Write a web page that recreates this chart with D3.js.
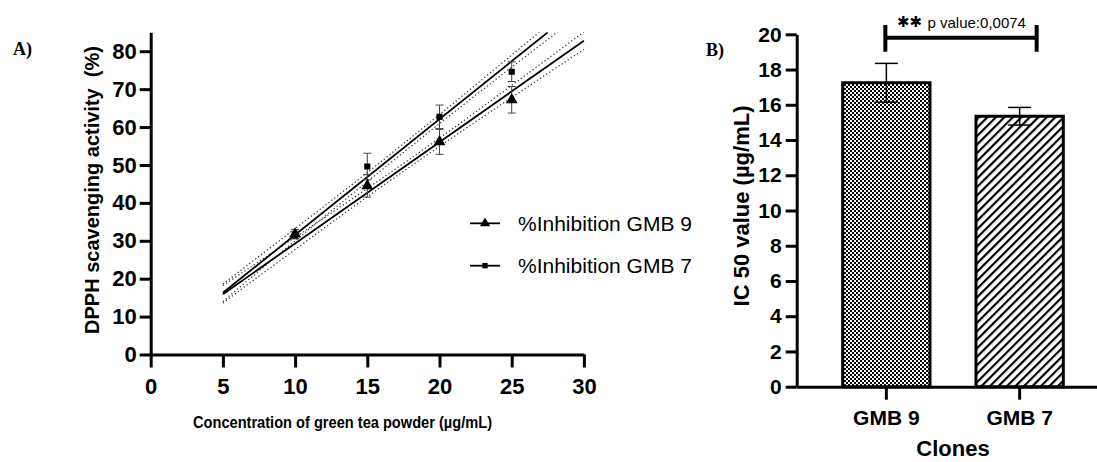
<!DOCTYPE html>
<html>
<head>
<meta charset="utf-8">
<script src="https://cdn.jsdelivr.net/npm/d3@7"></script>
<style>
  body { margin: 0; background: #fff; }
  svg { display: block; font-family: "Liberation Sans", Arial, sans-serif; }
</style>
</head>
<body>
<div id="chart"></div>
<script>
// ---- panel A : DPPH scavenging ----
var conc = [10, 15, 20, 25];
var gmb9 = [31.8, 44.5, 56.1, 67.2];
var gmb9Err = [1.2, 3.0, 3.3, 3.5];
var gmb7 = [31.5, 49.6, 62.7, 74.6];
var gmb7Err = [1.0, 3.5, 3.1, 2.6];

// regression lines, end points
var fit9X = [5, 30], fit9Y = [15.9, 82.8];
var fit7X = [5, 27.5], fit7Y = [16.3, 85];

// dotted confidence bands
var bandX = [5, 10, 15, 20, 25, 30];
var band9Hi = [18.2, 30.9, 43.8, 57.1, 71.0, 85.1];
var band9Lo = [13.6, 27.7, 41.6, 54.9, 67.8, 80.5];
var band7Hi = [18.6, 33.2, 48.0, 63.3, 79.0, 94.8];
var band7Lo = [14.0, 30.0, 45.6, 60.9, 75.8, 90.4];

var xTicksA = [0, 5, 10, 15, 20, 25, 30];
var yTicksA = [0, 10, 20, 30, 40, 50, 60, 70, 80];
var seriesNames = ["%Inhibition GMB 9", "%Inhibition GMB 7"];

// ---- panel B : IC50 ----
var clones = ["GMB 9", "GMB 7"];
var ic50 = [17.25, 15.35];
var ic50Err = [1.1, 0.5];
var yTicksB = [0, 2, 4, 6, 8, 10, 12, 14, 16, 18, 20];
var sigStars = "\u2731\u2731";
var sigText = "p value:0,0074";

var width = 1097, height = 462;

var svg = d3.select("#chart")
  .append("svg")
  .attr("width", width)
  .attr("height", height);

var defs = svg.append("defs");

// checker pattern for GMB 9
var checker = defs.append("pattern")
  .attr("id", "checker")
  .attr("width", 4).attr("height", 4)
  .attr("patternUnits", "userSpaceOnUse");
checker.append("rect").attr("width", 4).attr("height", 4).attr("fill", "#fff");
checker.append("rect").attr("width", 2).attr("height", 2).attr("fill", "#000");
checker.append("rect").attr("x", 2).attr("y", 2).attr("width", 2).attr("height", 2).attr("fill", "#000");

// diagonal hatch for GMB 7
var hatch = defs.append("pattern")
  .attr("id", "hatch")
  .attr("width", 6).attr("height", 6)
  .attr("patternUnits", "userSpaceOnUse")
  .attr("patternTransform", "rotate(45)");
hatch.append("rect").attr("width", 6).attr("height", 6).attr("fill", "#fff");
hatch.append("rect").attr("width", 2.2).attr("height", 6).attr("fill", "#000");

defs.append("clipPath").attr("id", "clipA")
  .append("rect")
  .attr("x", 150.7).attr("y", 32.3)
  .attr("width", 434).attr("height", 322.2);

/* ================= panel A ================= */
var xA = d3.scaleLinear().domain([0, 30]).range([150.7, 583.9]);
var yA = d3.scaleLinear().domain([0, 85]).range([354.5, 32.3]);

var gA = svg.append("g");

var yAxisA = gA.append("g")
  .attr("transform", "translate(" + xA(0) + ",0)")
  .call(d3.axisLeft(yA).tickValues(yTicksA).tickSize(11).tickPadding(3).tickSizeOuter(0));

var xAxisA = gA.append("g")
  .attr("transform", "translate(0," + yA(0) + ")")
  .call(d3.axisBottom(xA).tickValues(xTicksA).tickSize(13).tickPadding(11).tickSizeOuter(0));

[yAxisA, xAxisA].forEach(function (ax) {
  ax.select(".domain").attr("stroke-width", 3);
  ax.selectAll(".tick line").attr("stroke-width", 3);
  ax.selectAll(".tick text")
    .attr("font-size", 22)
    .attr("font-weight", "bold")
    .attr("font-family", "Liberation Sans, Arial, sans-serif")
    .attr("fill", "#000");
});

var plotA = gA.append("g").attr("clip-path", "url(#clipA)");

var line = d3.line()
  .x(function (d) { return xA(d[0]); })
  .y(function (d) { return yA(d[1]); });

var bandLine = d3.line()
  .curve(d3.curveMonotoneX)
  .x(function (d) { return xA(d[0]); })
  .y(function (d) { return yA(d[1]); });

var bands = [band9Hi, band9Lo, band7Hi, band7Lo];
bands.forEach(function (b) {
  plotA.append("path")
    .datum(bandX.map(function (x, i) { return [x, b[i]]; }))
    .attr("d", bandLine)
    .attr("fill", "none")
    .attr("stroke", "#333")
    .attr("stroke-width", 1.2)
    .attr("stroke-dasharray", "1.3,2.4");
});

[[fit9X, fit9Y], [fit7X, fit7Y]].forEach(function (f) {
  plotA.append("path")
    .datum(f[0].map(function (x, i) { return [x, f[1][i]]; }))
    .attr("d", line)
    .attr("fill", "none")
    .attr("stroke", "#000")
    .attr("stroke-width", 1.8);
});

var series = [
  { name: seriesNames[0], vals: gmb9, err: gmb9Err, shape: d3.symbolTriangle, size: 60 },
  { name: seriesNames[1], vals: gmb7, err: gmb7Err, shape: d3.symbolSquare, size: 38 }
];

series.forEach(function (s) {
  var pts = conc.map(function (c, i) { return { x: c, y: s.vals[i], e: s.err[i] }; });
  var eb = plotA.append("g").selectAll("g")
    .data(pts).enter().append("g")
    .attr("stroke", "#444").attr("stroke-width", 1);
  eb.append("line")
    .attr("x1", function (d) { return xA(d.x); })
    .attr("x2", function (d) { return xA(d.x); })
    .attr("y1", function (d) { return yA(d.y - d.e); })
    .attr("y2", function (d) { return yA(d.y + d.e); });
  [-1, 1].forEach(function (sgn) {
    eb.append("line")
      .attr("x1", function (d) { return xA(d.x) - 4; })
      .attr("x2", function (d) { return xA(d.x) + 4; })
      .attr("y1", function (d) { return yA(d.y + sgn * d.e); })
      .attr("y2", function (d) { return yA(d.y + sgn * d.e); });
  });
});

series.forEach(function (s) {
  plotA.append("g").selectAll("path")
    .data(conc.map(function (c, i) { return [c, s.vals[i]]; }))
    .enter().append("path")
    .attr("d", d3.symbol().type(s.shape).size(s.size))
    .attr("transform", function (d) { return "translate(" + xA(d[0]) + "," + yA(d[1]) + ")"; })
    .attr("fill", "#000");
});

// legend
var legend = gA.append("g").selectAll("g")
  .data(series).enter().append("g")
  .attr("transform", function (d, i) { return "translate(470," + (223.3 + i * 42.4) + ")"; });
legend.append("line")
  .attr("x1", 0).attr("x2", 30)
  .attr("stroke", "#000").attr("stroke-width", 1.8);
legend.append("path")
  .attr("d", function (d) { return d3.symbol().type(d.shape).size(d.size * 0.75)(); })
  .attr("transform", "translate(15,0)")
  .attr("fill", "#000");
legend.append("text")
  .attr("x", 48).attr("y", 7.5)
  .attr("font-size", 21)
  .text(function (d) { return d.name; });

gA.append("text")
  .attr("transform", "translate(98.5,190) rotate(-90)")
  .attr("text-anchor", "middle")
  .attr("font-size", 20).attr("font-weight", "bold")
  .style("white-space", "pre")
  .text("DPPH scavenging activity  (%)");

gA.append("text")
  .attr("x", 193).attr("y", 428)
  .attr("font-size", 17).attr("font-weight", "bold")
  .attr("textLength", 299).attr("lengthAdjust", "spacingAndGlyphs")
  .text("Concentration of green tea powder (\u00b5g/mL)");

gA.append("text")
  .attr("x", 13).attr("y", 55)
  .attr("font-family", "Liberation Serif, Times New Roman, serif")
  .attr("font-size", 18).attr("font-weight", "bold")
  .text("A)");

/* ================= panel B ================= */
var yB = d3.scaleLinear().domain([0, 20]).range([386.7, 34.3]);
var xB = d3.scaleBand().domain(clones).range([796.7, 1109.3])
  .paddingInner(0.345).paddingOuter(0.345);

var gB = svg.append("g");

var yAxisB = gB.append("g")
  .attr("transform", "translate(796.7,0)")
  .call(d3.axisLeft(yB).tickValues(yTicksB).tickSize(11).tickPadding(4).tickSizeOuter(0));

var xAxisB = gB.append("g")
  .attr("transform", "translate(0," + yB(0) + ")")
  .call(d3.axisBottom(xB).tickSize(13).tickPadding(10).tickSizeOuter(0));

[yAxisB, xAxisB].forEach(function (ax) {
  ax.select(".domain").attr("stroke-width", 3);
  ax.selectAll(".tick line").attr("stroke-width", 3);
  ax.selectAll(".tick text")
    .attr("font-size", 21)
    .attr("font-weight", "bold")
    .attr("font-family", "Liberation Sans, Arial, sans-serif")
    .attr("fill", "#000");
});

var barData = clones.map(function (c, i) { return { name: c, v: ic50[i], e: ic50Err[i] }; });

gB.append("g").selectAll("rect")
  .data(barData).enter().append("rect")
  .attr("x", function (d) { return xB(d.name); })
  .attr("y", function (d) { return yB(d.v); })
  .attr("width", xB.bandwidth())
  .attr("height", function (d) { return yB(0) - yB(d.v); })
  .attr("fill", function (d, i) { return i === 0 ? "url(#checker)" : "url(#hatch)"; })
  .attr("stroke", "#000")
  .attr("stroke-width", 3);

var ebB = gB.append("g").selectAll("g")
  .data(barData).enter().append("g")
  .attr("stroke", "#000").attr("stroke-width", 1.5);
ebB.append("line")
  .attr("x1", function (d) { return xB(d.name) + xB.bandwidth() / 2; })
  .attr("x2", function (d) { return xB(d.name) + xB.bandwidth() / 2; })
  .attr("y1", function (d) { return yB(d.v - d.e); })
  .attr("y2", function (d) { return yB(d.v + d.e); });
[-1, 1].forEach(function (sgn) {
  ebB.append("line")
    .attr("x1", function (d) { return xB(d.name) + xB.bandwidth() / 2 - 11.5; })
    .attr("x2", function (d) { return xB(d.name) + xB.bandwidth() / 2 + 11.5; })
    .attr("y1", function (d) { return yB(d.v + sgn * d.e); })
    .attr("y2", function (d) { return yB(d.v + sgn * d.e); });
});

// significance bracket
var bx1 = xB(clones[0]) + xB.bandwidth() / 2 - 1;
var bx2 = xB(clones[1]) + xB.bandwidth() / 2 + 17;
var sig = gB.append("g").attr("stroke", "#000").attr("stroke-width", 4);
sig.append("line").attr("x1", bx1).attr("x2", bx2).attr("y1", 37.7).attr("y2", 37.7);
sig.append("line").attr("x1", bx1).attr("x2", bx1).attr("y1", 25).attr("y2", 51.7);
sig.append("line").attr("x1", bx2).attr("x2", bx2).attr("y1", 25).attr("y2", 51.7);

gB.append("text")
  .attr("x", 897).attr("y", 27)
  .attr("font-family", "DejaVu Sans, sans-serif")
  .attr("font-size", 15)
  .text(sigStars);
gB.append("text")
  .attr("x", 927.5).attr("y", 28)
  .attr("font-size", 15)
  .text(sigText);

gB.append("text")
  .attr("transform", "translate(749,206) rotate(-90)")
  .attr("text-anchor", "middle")
  .attr("font-size", 22).attr("font-weight", "bold")
  .text("IC 50 value (\u00b5g/mL)");

gB.append("text")
  .attr("x", 953).attr("y", 456)
  .attr("text-anchor", "middle")
  .attr("font-size", 22).attr("font-weight", "bold")
  .text("Clones");

gB.append("text")
  .attr("x", 706).attr("y", 56)
  .attr("font-family", "Liberation Serif, Times New Roman, serif")
  .attr("font-size", 18).attr("font-weight", "bold")
  .text("B)");
</script>
</body>
</html>
